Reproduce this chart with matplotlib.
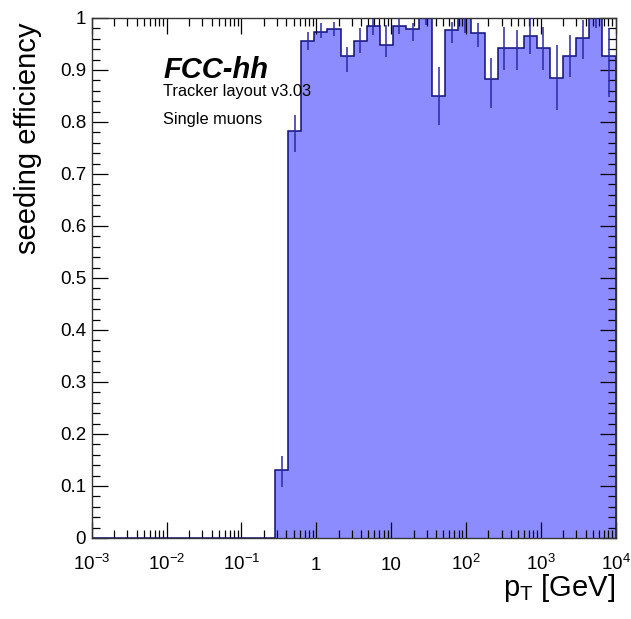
import numpy as np
import matplotlib
matplotlib.use("Agg")
import matplotlib.pyplot as plt
from matplotlib.ticker import FixedLocator, FixedFormatter

plt.rcParams['font.family'] = ['Liberation Sans', 'DejaVu Sans']
plt.rcParams['mathtext.default'] = 'regular'

# 40 log-spaced bins from 1e-3 to 1e4 GeV
bin_edges_log = (-3, 4, 40)
efficiency = [0.0] * 14 + [
    0.13, 0.783, 0.955, 0.974, 0.979, 0.926, 0.955, 0.985, 0.949, 0.985,
    0.978, 1.0, 0.85, 0.976, 1.0, 0.972, 0.883, 0.943, 0.942, 0.966,
    0.943, 0.884, 0.927, 0.961, 1.0, 0.926]
err_low = [0.0] * 14 + [
    0.031, 0.040, 0.017, 0.013, 0.014, 0.029, 0.023, 0.018, 0.024, 0.016,
    0.023, 0.013, 0.056, 0.025, 0.028, 0.027, 0.056, 0.043, 0.042, 0.036,
    0.043, 0.061, 0.040, 0.040, 0.020, 0.077]
err_high = [0.0] * 14 + [
    0.027, 0.030, 0.018, 0.016, 0.014, 0.019, 0.025, 0.015, 0.037, 0.015,
    0.012, 0.0, 0.056, 0.017, 0.0, 0.018, 0.040, 0.040, 0.035, 0.034,
    0.040, 0.064, 0.040, 0.035, 0.0, 0.054]

xtick_vals = [1e-3, 1e-2, 1e-1, 1, 10, 1e2, 1e3, 1e4]
xtick_labels = ['$10^{-3}$', '$10^{-2}$', '$10^{-1}$', '1', '10',
                '$10^{2}$', '$10^{3}$', '$10^{4}$']
ytick_vals = [0, 0.1, 0.2, 0.3, 0.4, 0.5, 0.6, 0.7, 0.8, 0.9, 1.0]
ytick_labels = ['0', '0.1', '0.2', '0.3', '0.4', '0.5', '0.6', '0.7', '0.8', '0.9', '1']

W, H = 631, 619
fig = plt.figure(figsize=(W / 100, H / 100), dpi=100)
ax = fig.add_axes([91.7 / W, 1 - 538 / H, (615.5 - 91.7) / W, (538 - 18) / H])

edges = np.logspace(bin_edges_log[0], bin_edges_log[1], bin_edges_log[2] + 1)
vals = np.array(efficiency)
lo = np.array(err_low)
hi = np.array(err_high)
centers = np.sqrt(edges[:-1] * edges[1:])

fill_col = '#8c8cff'
line_col = '#10107a'
err_col = '#2a2aa8'

ax.stairs(vals, edges, fill=True, color=fill_col, linewidth=0, zorder=1)
ax.stairs(vals, edges, fill=False, color=line_col, linewidth=1.1, baseline=0, zorder=2)
m = vals > 0
ax.errorbar(centers[m], vals[m], yerr=[lo[m], hi[m]], fmt='none',
            ecolor=err_col, elinewidth=1.1, capsize=0, zorder=3)

ax.set_xscale('log')
ax.set_xlim(1e-3, 1e4)
ax.set_ylim(0, 1)

ax.xaxis.set_major_locator(FixedLocator(xtick_vals))
ax.xaxis.set_major_formatter(FixedFormatter(xtick_labels))
minor_x = [m_ * 10.0 ** d for d in range(-3, 4) for m_ in range(2, 10)]
ax.xaxis.set_minor_locator(FixedLocator(minor_x))
ax.xaxis.set_minor_formatter(FixedFormatter([''] * len(minor_x)))

ax.yaxis.set_major_locator(FixedLocator(ytick_vals))
ax.yaxis.set_major_formatter(FixedFormatter(ytick_labels))
ax.yaxis.set_minor_locator(FixedLocator(np.arange(0, 1.0001, 0.02)))

ax.tick_params(which='both', direction='in', top=True, right=True,
               labelsize=13.5, width=0.9, color='black')
ax.tick_params(which='major', length=11.5)
ax.tick_params(which='minor', length=5.8)
ax.tick_params(axis='x', which='major', pad=23)
ax.tick_params(axis='y', which='major', pad=4)
for lbl in ax.get_xticklabels():
    lbl.set_verticalalignment('baseline')

for s in ax.spines.values():
    s.set_linewidth(1.0)
    s.set_color('#333333')

fig.text(28 / W, 1 - 22 / H, 'seeding efficiency', rotation=90,
         ha='center', va='top', fontsize=21)
fig.text(615 / W, 1 - 596 / H, r'p$_{T}$ [GeV]', ha='right', va='baseline',
         fontsize=21)

fig.text(163 / W, 1 - 78 / H, 'FCC-hh', fontsize=21, fontweight='bold',
         fontstyle='italic', ha='left', va='baseline')
fig.text(163 / W, 1 - 96 / H, 'Tracker layout v3.03', fontsize=11.8,
         ha='left', va='baseline')
fig.text(163 / W, 1 - 124 / H, 'Single muons', fontsize=11.8,
         ha='left', va='baseline')

fig.savefig('out.png', dpi=100)
